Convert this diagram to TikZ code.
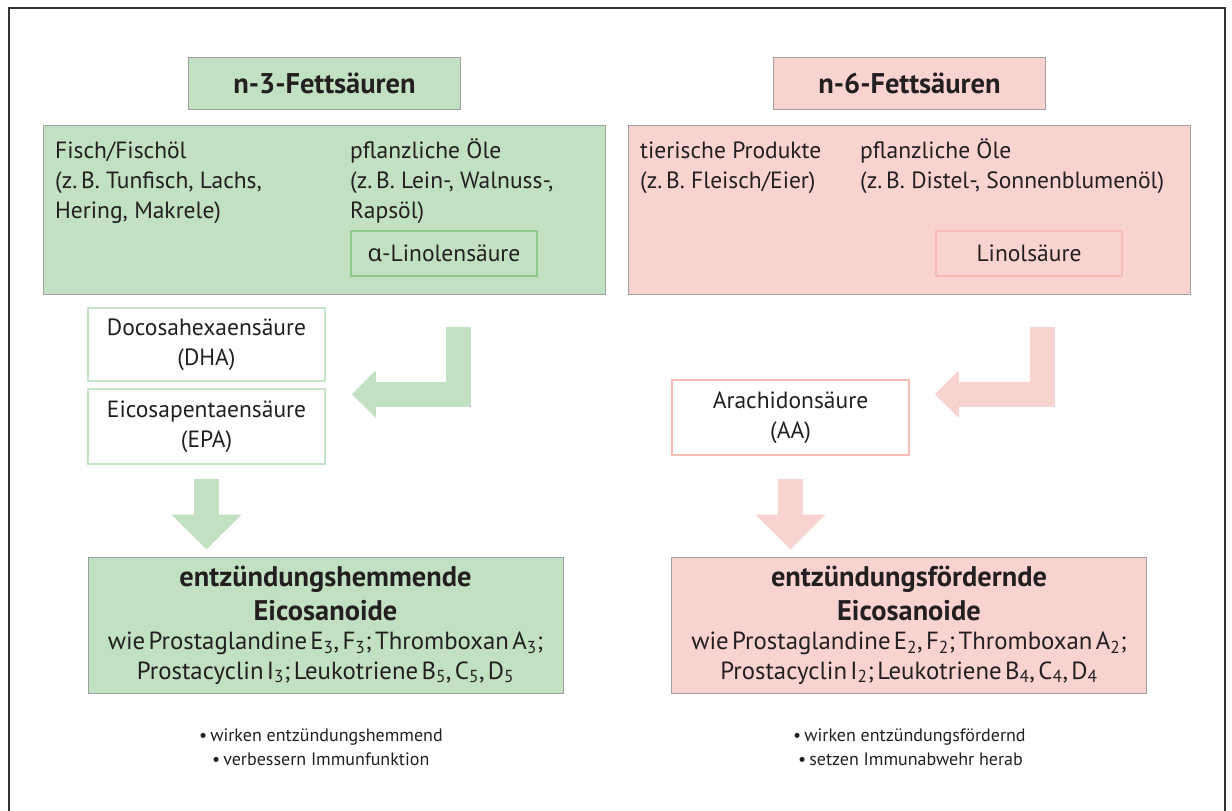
\documentclass[tikz,border=0pt]{standalone}
\usepackage{fontspec}
\setmainfont{PT Sans}
\newfontfamily\greekfont{Noto Sans}
\usepackage{tikz}
\usetikzlibrary{arrows.meta,calc,positioning}
\definecolor{OmegaGreen}{RGB}{194,225,195}
\definecolor{GreenLine}{RGB}{140,203,140}
\definecolor{GreenPale}{RGB}{198,229,199}
\definecolor{OmegaPink}{RGB}{249,211,208}
\definecolor{PinkLine}{RGB}{246,188,182}
\definecolor{BoxGrey}{RGB}{160,160,160}
\definecolor{InkDark}{RGB}{35,31,32}
\definecolor{FrameGrey}{RGB}{50,50,50}
\tikzset{
  every node/.style={text=InkDark, inner sep=0pt},
  titlebox/.style={draw=BoxGrey, line width=1pt, fill=#1,
    minimum width=272pt, minimum height=52pt, font=\bfseries\fontsize{28.5}{32}\selectfont},
  sourcebox/.style={draw=BoxGrey, line width=1pt, fill=#1, minimum width=562pt, minimum height=169pt},
  acidbox/.style={draw=#1, line width=1.6pt, minimum width=186pt, minimum height=45pt,
    font=\fontsize{23.5}{28}\selectfont},
  derivbox/.style={draw=#1, line width=1.6pt, fill=white, minimum width=237pt,
    align=center, font=\fontsize{23.5}{30}\selectfont},
  eicobox/.style={draw=BoxGrey, line width=1pt, fill=#1, minimum width=475pt, minimum height=136pt,
    text width=470pt, align=center},
  srctext/.style={anchor=north west, align=left, font=\fontsize{23.5}{30}\selectfont},
  bullettext/.style={anchor=base west, font=\fontsize{18}{22}\selectfont},
  turnarrow/.style={draw=#1, line width=25pt, line join=miter, -{Triangle[length=24pt,width=46pt]}},
  droparrow/.style={draw=#1, line width=25pt, -{Triangle[length=35pt,width=68pt]}},
}
\newcommand{\firstline}{\rule{0pt}{22pt}}
\newcommand{\eicotext}[3]{%
  {\bfseries\fontsize{28.4}{34}\selectfont #1\par Eicosanoide\par}%
  {\fontsize{24.8}{29.5}\selectfont wie Prostaglandine E\textsubscript{#2}, F\textsubscript{#2}; Thromboxan A\textsubscript{#2};\par
   Prostacyclin I\textsubscript{#2}; Leukotriene B\textsubscript{#3}, C\textsubscript{#3}, D\textsubscript{#3}\par}}

\begin{document}
\begin{tikzpicture}[x=1pt,y=-1pt]
  \useasboundingbox (0,0) rectangle (1232,811);
  % frame
  \draw[FrameGrey, line width=2pt] (8.5,812) -- (8.5,7.5) -- (1224.5,7.5) -- (1224.5,812);

  % n-3 side
  \node[titlebox=OmegaGreen] (n3title) at (324.5,83) {n-3-Fettsäuren};
  \node[sourcebox=OmegaGreen] (n3box) at (324.5,209.5) {};
  \node[srctext] (fisch) at (55,136) {\firstline Fisch/Fischöl\\(z.\,B. Tunfisch, Lachs,\\Hering, Makrele)};
  \node[srctext] (oeleL) at (350,136) {\firstline pflanzliche Öle\\(z.\,B. Lein-, Walnuss-,\\Rapsöl)};
  \node[acidbox=GreenLine] (alphaL) at (444,253.5) {{\greekfont α}-Linolensäure};
  \node[derivbox=GreenPale, minimum height=73pt] (dha) at (206.5,344.5) {Docosahexaensäure\\(DHA)};
  \node[derivbox=GreenPale, minimum height=75pt] (epa) at (206.5,426.5) {Eicosapentaensäure\\(EPA)};
  \node[eicobox=OmegaGreen] (eicoL) at (325.5,625) {\eicotext{entzündungshemmende}{3}{5}};

  % n-6 side
  \node[titlebox=OmegaPink] (n6title) at (909.5,83) {n-6-Fettsäuren};
  \node[sourcebox=OmegaPink] (n6box) at (909.5,209.5) {};
  \node[srctext] (tier) at (640,136) {\firstline tierische Produkte\\(z.\,B. Fleisch/Eier)};
  \node[srctext] (oeleR) at (860,136) {\firstline pflanzliche Öle\\(z.\,B. Distel-, Sonnenblumenöl)};
  \node[acidbox=PinkLine] (linol) at (1029,253.5) {Linolsäure};
  \node[derivbox=PinkLine, minimum height=75pt] (aa) at (790.5,417.5) {Arachidonsäure\\(AA)};
  \node[eicobox=OmegaPink] (eicoR) at (909,625) {\eicotext{entzündungsfördernde}{2}{4}};

  % block arrows
  \coordinate (srcL) at (458,327);
  \coordinate (srcR) at (1042,327);
  \draw[turnarrow=OmegaGreen] (srcL) |- ([xshift=26pt,yshift=-6pt]epa.north east);
  \draw[turnarrow=OmegaPink] (srcR) |- ([xshift=25pt,yshift=-15pt]aa.north east);
  \draw[droparrow=OmegaGreen, shorten <=14pt, shorten >=7pt] (epa.south) -- (epa.south |- eicoL.north);
  \draw[droparrow=OmegaPink, shorten <=23pt, shorten >=7pt] (aa.south) -- (aa.south |- eicoR.north);

  % effects
  \node[bullettext] (effL1) at (199,741) {\textbullet\,wirken entzündungshemmend};
  \node[bullettext] (effL2) at (212,765) {\textbullet\,verbessern Immunfunktion};
  \node[bullettext] (effR1) at (793,741) {\textbullet\,wirken entzündungsfördernd};
  \node[bullettext] (effR2) at (798,765) {\textbullet\,setzen Immunabwehr herab};
\end{tikzpicture}
\end{document}
